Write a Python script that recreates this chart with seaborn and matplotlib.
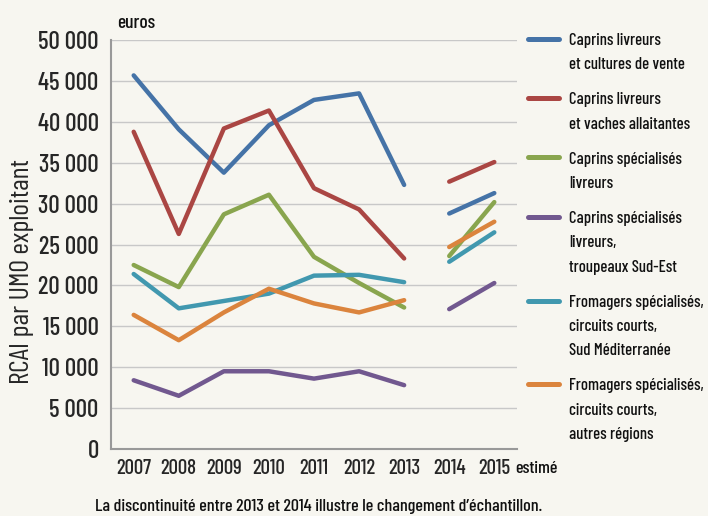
import pandas as pd
import matplotlib.pyplot as plt
import seaborn as sns
import numpy as np

sns.set_theme(style="white")
plt.rcParams['font.family'] = ['Barlow Condensed', 'DejaVu Sans']
plt.rcParams['font.weight'] = 'medium'
plt.rcParams['text.color'] = '#111111'

annees = [2007, 2008, 2009, 2010, 2011, 2012, 2013, 2014, 2015]
series = [
    'Caprins livreurs\net cultures de vente',
    'Caprins livreurs\net vaches allaitantes',
    'Caprins spécialisés\nlivreurs',
    'Caprins spécialisés\nlivreurs,\ntroupeaux Sud-Est',
    'Fromagers spécialisés,\ncircuits courts,\nSud Méditerranée',
    'Fromagers spécialisés,\ncircuits courts,\nautres régions',
]
couleurs = ['#4573a7', '#aa4643', '#89a54e', '#71588f', '#4198af', '#db843d']

# RCAI par UMO exploitant (euros), 2007-2015
livreurs_cultures = [45700, 39100, 33800, 39600, 42700, 43500, 32300, 28800, 31300]
livreurs_vaches = [38800, 26300, 39200, 41400, 31900, 29300, 23300, 32700, 35100]
specialises = [22500, 19800, 28700, 31100, 23500, 20300, 17300, 23600, 30200]
specialises_se = [8400, 6500, 9500, 9500, 8600, 9500, 7800, 17100, 20300]
fromagers_med = [21400, 17200, 18100, 19000, 21200, 21300, 20400, 22900, 26500]
fromagers_autres = [16400, 13300, 16700, 19600, 17800, 16700, 18200, 24700, 27800]
valeurs = [livreurs_cultures, livreurs_vaches, specialises, specialises_se,
           fromagers_med, fromagers_autres]
# changement d'échantillon entre 2013 et 2014
segment = ['avant'] * 7 + ['apres'] * 2

rows = []
for nom, vals in zip(series, valeurs):
    for i, v in enumerate(vals):
        rows.append({'serie': nom, 'x': i, 'rcai': v, 'segment': segment[i]})
df = pd.DataFrame(rows)

fond = '#f7f6f0'
fig = plt.figure(figsize=(7.08, 5.16), dpi=100, facecolor=fond)
ax = fig.add_axes([0.157, 0.130, 0.573, 0.792], facecolor=fond)

sns.lineplot(data=df, x='x', y='rcai', hue='serie', units='segment', estimator=None,
             palette=couleurs, hue_order=series, linewidth=3.2,
             solid_capstyle='round', ax=ax, legend=False)

ax.set_xlim(-0.5, 8.5)
ax.set_ylim(0, 50000)
ax.set_yticks(np.arange(0, 50001, 5000))
ax.set_yticklabels([f'{v:,}'.replace(',', ' ') for v in range(0, 50001, 5000)], fontsize=18)
ax.yaxis.grid(True, color='#c8c8c8', linewidth=1)
ax.set_axisbelow(True)

ax.set_xticks(range(9))
ax.set_xticklabels([str(a) for a in annees], fontsize=15)
ax.set_xticks(np.arange(-0.5, 9, 1), minor=True)
ax.tick_params(axis='x', which='major', length=0, pad=7)
ax.tick_params(axis='x', which='minor', length=5, color='#888888', width=1.2, direction='out')
ax.tick_params(axis='y', length=4, color='#888888', width=1.2, direction='out', pad=5)

for s in ['top', 'right']:
    ax.spines[s].set_visible(False)
for s in ['left', 'bottom']:
    ax.spines[s].set_color('#999999')
    ax.spines[s].set_linewidth(1.5)

ax.set_xlabel('')
ax.set_ylabel('RCAI par UMO exploitant', fontsize=20)
ax.yaxis.set_label_coords(-0.19, 0.435)
ax.text(8.47, -0.049, 'estimé', transform=ax.get_xaxis_transform(), fontsize=13,
        ha='left', va='center')
fig.text(0.165, 0.955, 'euros', fontsize=14, ha='left', va='center')
fig.text(0.45, 0.018, 'La discontinuité entre 2013 et 2014 illustre le changement d\u2019échantillon.',
         fontsize=13, ha='center', va='center')

handles = [plt.Line2D([], [], color=c, linewidth=3.6, solid_capstyle='round') for c in couleurs]
leg = ax.legend(handles, series, loc='upper left', bbox_to_anchor=(1.027, 1.018),
                frameon=False, fontsize=12, handlelength=1.9, handletextpad=0.6,
                labelspacing=1.2, borderpad=0, borderaxespad=0)
for t in leg.get_texts():
    t.set_linespacing(1.78)
for vp in leg._legend_handle_box.get_children():
    for hp in vp.get_children():
        hp.align = 'top'

fig.savefig('out.png', dpi=100, facecolor=fond)
